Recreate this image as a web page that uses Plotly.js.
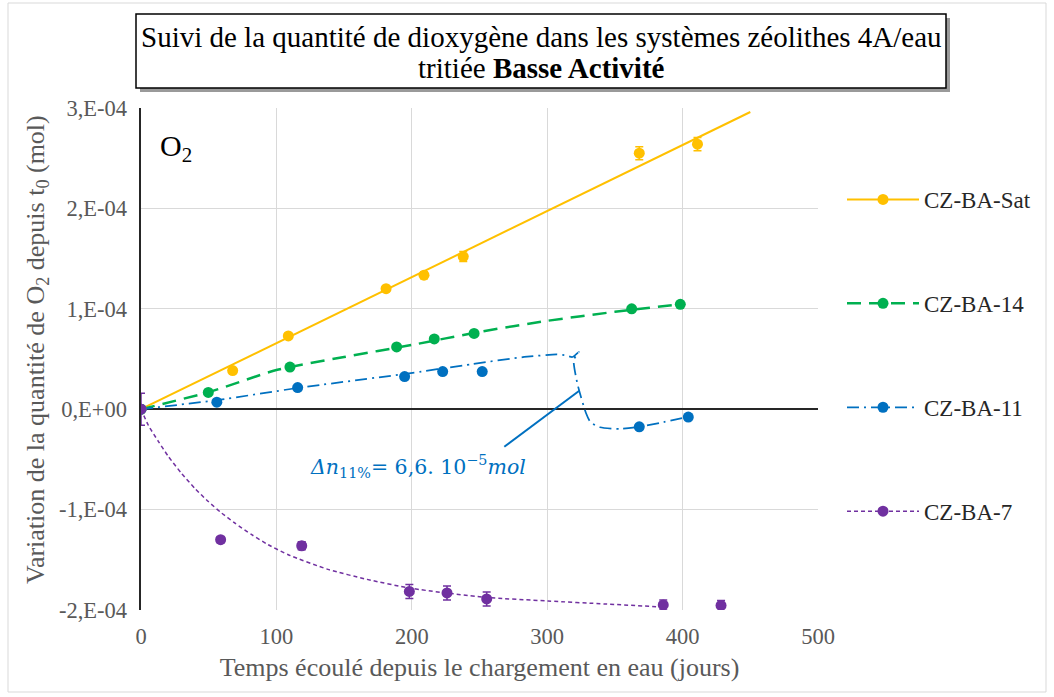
<!DOCTYPE html>
<html>
<head>
<meta charset="utf-8">
<script src="https://cdn.plot.ly/plotly-3.0.1.min.js"></script>
<style>
html,body{margin:0;padding:0;background:#fff;}
#chart{width:1054px;height:697px;}
</style>
</head>
<body>
<div id="chart"></div>
<script>
// ---- Data (days, mol) ----
const seriesNames = ["CZ-BA-Sat", "CZ-BA-14", "CZ-BA-11", "CZ-BA-7"];

const satDays = [0, 67.7, 108.8, 181, 209, 238, 368, 411];
const satO2   = [0, 3.85e-5, 7.3e-5, 1.20e-4, 1.335e-4, 1.52e-4, 2.55e-4, 2.64e-4];
const satErr  = [0, 2e-6, 2.5e-6, 2.5e-6, 3.5e-6, 5e-6, 6.5e-6, 6.5e-6];
const satFitDays = [0, 450];
const satFitO2   = [0, 2.96e-4];

const ba14Days = [0, 49.7, 110, 188.8, 216.6, 246, 362.4, 398.3];
const ba14O2   = [0, 1.67e-5, 4.2e-5, 6.2e-5, 7.0e-5, 7.55e-5, 1.0e-4, 1.045e-4];
const ba14FitDays = [0, 50, 100, 150, 200, 250, 300, 350, 398];
const ba14FitO2   = [0, 1.7e-5, 3.9e-5, 5.2e-5, 6.4e-5, 7.7e-5, 8.8e-5, 9.7e-5, 1.045e-4];

const ba11Days = [0, 56, 115.7, 194.7, 222.8, 252, 368, 404.2];
const ba11O2   = [0, 0.7e-5, 2.15e-5, 3.25e-5, 3.75e-5, 3.75e-5, -1.75e-5, -0.78e-5];
const ba11FitDays = [0, 56, 115, 194, 245, 283, 307, 314, 318.6, 323.3, 319.6, 322.2, 325, 328.7, 332, 339, 354, 368, 383, 404];
const ba11FitO2   = [0, 0.9e-5, 2.1e-5, 3.5e-5, 4.5e-5, 5.2e-5, 5.45e-5, 5.35e-5, 5.2e-5, 5.7e-5, 4.9e-5, 2.6e-5, 1.2e-5, -0.4e-5, -1.3e-5, -1.8e-5, -1.96e-5, -1.76e-5, -1.37e-5, -0.77e-5];

const ba7Days = [0, 58.8, 118.7, 198.2, 226, 255.3, 385.7, 428.4];
const ba7O2   = [0, -1.30e-4, -1.36e-4, -1.815e-4, -1.83e-4, -1.89e-4, -1.95e-4, -1.955e-4];
const ba7Err  = [1.6e-5, 3e-6, 4e-6, 7e-6, 7e-6, 7e-6, 5e-6, 5e-6];
const ba7FitDays = [0, 5.4, 12.8, 20.2, 30, 39.9, 49.7, 59.6, 69.4, 81.8, 94, 108.8, 138, 167, 200, 255, 300.6, 342.7, 385];
const ba7FitO2   = [0, -0.16e-4, -0.32e-4, -0.47e-4, -0.64e-4, -0.79e-4, -0.92e-4, -1.035e-4, -1.135e-4, -1.25e-4, -1.35e-4, -1.45e-4, -1.595e-4, -1.695e-4, -1.785e-4, -1.875e-4, -1.91e-4, -1.94e-4, -1.97e-4];

// annotation pointer (days, mol)
const deltaLineDays = [268.3, 323.7];
const deltaLineO2   = [-0.374e-4, 0.184e-4];

const yTickVals = [-2e-4, -1e-4, 0, 1e-4, 2e-4, 3e-4];
const yTickText = ["-2,E-04", "-1,E-04", "0,E+00", "1,E-04", "2,E-04", "3,E-04"];
const xTickVals = [0, 100, 200, 300, 400, 500];

const titleLine1 = "Suivi de la quantité de dioxygène dans les systèmes zéolithes 4A/eau";
const titleLine2 = "tritiée <b>Basse Activité</b>";
const xTitle = "Temps écoulé depuis le chargement en eau (jours)";
const yTitle = "Variation de la quantité de O<sub>2</sub> depuis t<sub>0</sub> (mol)";

// ---- Styles ----
const colors = ["#FFC000", "#00B050", "#0070C0", "#7030A0"];
const dashes = ["solid", "14px,8px", "12px,5px,2px,5px", "4px,3px"];
const widths = [2, 2.5, 1.75, 1.5];
const SERIF = "'Liberation Serif', 'Times New Roman', Times, serif";

const traces = [];
const fits = [[satFitDays, satFitO2], [ba14FitDays, ba14FitO2], [ba11FitDays, ba11FitO2], [ba7FitDays, ba7FitO2]];
const pts = [[satDays, satO2, satErr], [ba14Days, ba14O2, null], [ba11Days, ba11O2, null], [ba7Days, ba7O2, ba7Err]];

for (let i = 0; i < 4; i++) {
  traces.push({
    x: fits[i][0], y: fits[i][1], type: "scatter", mode: "lines",
    line: {color: colors[i], width: widths[i], dash: dashes[i], shape: i === 0 ? "linear" : "spline", smoothing: 0.6},
    showlegend: false, hoverinfo: "skip"
  });
}
for (let i = 0; i < 4; i++) {
  const t = {
    x: pts[i][0], y: pts[i][1], type: "scatter", mode: "markers",
    marker: {color: colors[i], size: 11},
    showlegend: false
  };
  if (pts[i][2]) t.error_y = {type: "data", array: pts[i][2], visible: true, color: colors[i], thickness: 1.5, width: 4};
  traces.push(t);
}
// pointer line
traces.push({x: deltaLineDays, y: deltaLineO2, type: "scatter", mode: "lines",
  line: {color: "#0070C0", width: 2}, showlegend: false, hoverinfo: "skip"});
// legend entries
for (let i = 0; i < 4; i++) {
  traces.push({
    x: [null], y: [null], type: "scatter", mode: "lines+markers", name: seriesNames[i],
    legendgroup: "g" + i,
    line: {color: colors[i], width: widths[i], dash: dashes[i]},
    marker: {color: colors[i], size: 11}
  });
}

const L = 141, R = 818, T = 108, B = 610, W = 1054, H = 697;
const px = v => (v - L) / (R - L);
const py = v => (B - v) / (B - T);

const layout = {
  width: W, height: H,
  margin: {l: L, r: W - R, t: T, b: H - B},
  paper_bgcolor: "#ffffff", plot_bgcolor: "#ffffff",
  font: {family: SERIF, color: "#595959", size: 22},
  showlegend: true,
  legend: {
    x: px(842), y: py(178), xanchor: "left", yanchor: "top",
    font: {family: SERIF, size: 23, color: "#262626"},
    traceorder: "grouped", tracegroupgap: 71, itemwidth: 72,
    bgcolor: "rgba(0,0,0,0)"
  },
  xaxis: {
    range: [0, 500], tickvals: xTickVals, ticks: "", showline: false, zeroline: false,
    showgrid: true, gridcolor: "#d9d9d9", gridwidth: 1,
    tickfont: {family: SERIF, size: 22.5, color: "#595959"}, ticklabelstandoff: 10,
    title: {text: xTitle, font: {family: SERIF, size: 26, color: "#595959"}, standoff: 10},
    automargin: false
  },
  yaxis: {
    range: [-2e-4, 3e-4], tickvals: yTickVals, ticktext: yTickText, ticks: "",
    showline: true, linecolor: "#262626", linewidth: 2.5, mirror: false,
    zeroline: true, zerolinecolor: "#262626", zerolinewidth: 2.5,
    showgrid: true, gridcolor: "#d9d9d9", gridwidth: 1,
    tickfont: {family: SERIF, size: 22.5, color: "#595959"}, ticklabelstandoff: 7,
    automargin: false
  },
  shapes: [
    {type: "rect", xref: "paper", yref: "paper", x0: px(8), x1: px(1046), y0: py(3), y1: py(692),
     line: {color: "#d9d9d9", width: 1}, fillcolor: "rgba(0,0,0,0)", layer: "below"},
    {type: "rect", xref: "paper", yref: "paper", x0: px(140), x1: px(950), y0: py(18), y1: py(92),
     line: {width: 0}, fillcolor: "#9a9a9a", layer: "above"},
    {type: "rect", xref: "paper", yref: "paper", x0: px(136), x1: px(946), y0: py(14), y1: py(88),
     line: {color: "#000000", width: 1.5}, fillcolor: "#ffffff", layer: "above"}
  ],
  annotations: [
    {xref: "paper", yref: "paper", x: px(541), y: py(37), xanchor: "center", yanchor: "middle",
     text: titleLine1, showarrow: false, font: {family: SERIF, size: 29, color: "#000000"}},
    {xref: "paper", yref: "paper", x: px(541), y: py(68), xanchor: "center", yanchor: "middle",
     text: titleLine2, showarrow: false, font: {family: SERIF, size: 29, color: "#000000"}},
    {xref: "paper", yref: "paper", x: px(37), y: py(350), xanchor: "center", yanchor: "middle",
     text: yTitle, textangle: -90, showarrow: false, font: {family: SERIF, size: 26, color: "#595959"}},
    {xref: "paper", yref: "paper", x: px(158), y: py(148), xanchor: "left", yanchor: "middle",
     text: "O<sub>2</sub>", showarrow: false, font: {family: SERIF, size: 30, color: "#000000"}},
    {xref: "paper", yref: "paper", x: px(308), y: py(466), xanchor: "left", yanchor: "middle",
     text: "<i>Δn</i><sub>11%</sub>= 6,6. 10<sup>−5</sup><i>mol</i>", showarrow: false,
     font: {family: "'DejaVu Serif', serif", size: 20.5, color: "#0070C0"}}
  ]
};

Plotly.newPlot("chart", traces, layout, {displayModeBar: false, staticPlot: true});
</script>
</body>
</html>
